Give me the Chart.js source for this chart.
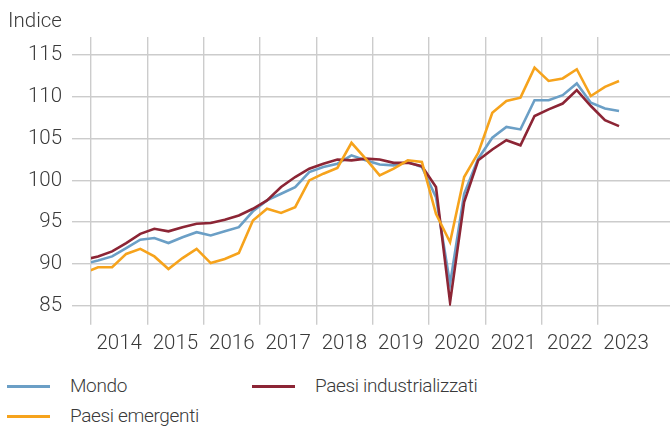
<!DOCTYPE html>
<html>
<head>
<meta charset="utf-8">
<script src="https://cdn.jsdelivr.net/npm/chart.js@4"></script>
<style>
    body { margin: 0; background: #fff; }
    #wrap { position: relative; width: 670px; height: 426px; font-family: Roboto, 'Liberation Sans', sans-serif; font-weight: 300; color: #3a3a3a; }
    #grafico { position: absolute; left: 0; top: 0; }
    .voce { position: absolute; font-size: 19px; line-height: 24px; letter-spacing: -0.35px; white-space: nowrap; }
    .tratto { position: absolute; height: 3px; width: 43px; }
</style>
</head>
<body>
<div id="wrap">
    <canvas id="grafico" width="670" height="360"></canvas>
    <div id="legenda"></div>
</div>
<script>
'use strict';

// trimestri (il primo cade fuori dall'asse e viene tagliato)
const periodi = ['2013T4',
    '2014T1', '2014T2', '2014T3', '2014T4',
    '2015T1', '2015T2', '2015T3', '2015T4',
    '2016T1', '2016T2', '2016T3', '2016T4',
    '2017T1', '2017T2', '2017T3', '2017T4',
    '2018T1', '2018T2', '2018T3', '2018T4',
    '2019T1', '2019T2', '2019T3', '2019T4',
    '2020T1', '2020T2', '2020T3', '2020T4',
    '2021T1', '2021T2', '2021T3', '2021T4',
    '2022T1', '2022T2', '2022T3', '2022T4',
    '2023T1', '2023T2'];

const mondo = [90.0,
    90.4, 90.9, 91.9, 92.9,
    93.1, 92.5, 93.2, 93.8,
    93.4, 93.9, 94.4, 96.3,
    97.6, 98.4, 99.2, 101.0,
    101.6, 102.0, 103.0, 102.4,
    101.9, 101.8, 102.2, 101.6,
    98.0, 87.6, 98.4, 102.6,
    105.1, 106.4, 106.1, 109.6,
    109.6, 110.2, 111.6, 109.3,
    108.6, 108.3];

const industrializzati = [90.5,
    90.9, 91.5, 92.5, 93.6,
    94.2, 93.9, 94.4, 94.8,
    94.9, 95.3, 95.8, 96.6,
    97.6, 99.2, 100.4, 101.4,
    102.0, 102.5, 102.4, 102.6,
    102.5, 102.1, 102.1, 101.7,
    99.2, 85.4, 97.4, 102.4,
    103.7, 104.8, 104.2, 107.7,
    108.5, 109.2, 110.8, 108.9,
    107.2, 106.5];

const emergenti = [88.9,
    89.6, 89.6, 91.2, 91.8,
    90.9, 89.4, 90.7, 91.8,
    90.1, 90.6, 91.3, 95.2,
    96.6, 96.1, 96.8, 100.0,
    100.8, 101.5, 104.5, 102.6,
    100.6, 101.4, 102.4, 102.2,
    96.0, 92.6, 100.4, 103.3,
    108.1, 109.5, 109.9, 113.5,
    111.9, 112.2, 113.3, 110.1,
    111.2, 111.9];

const anni = ['2014', '2015', '2016', '2017', '2018', '2019', '2020', '2021', '2022', '2023'];
const tickY = [85, 90, 95, 100, 105, 110, 115];

const coloreMondo = '#6b9fc6';
const coloreIndustr = '#8c2535';
const coloreEmerg = '#f6a31c';
const grigio = '#cccccc';
const testo = '#3a3a3a';

// posizione del trimestre al centro del periodo
function aData(serie) {
    return serie.map((v, i) => {
        const anno = parseInt(periodi[i].slice(0, 4));
        const t = parseInt(periodi[i].slice(5));
        return { x: anno + (t - 0.5) / 4, y: v };
    });
}

Chart.defaults.font.family = "Roboto, 'Liberation Sans', sans-serif";
Chart.defaults.font.weight = 300;
Chart.defaults.font.size = 20.5;
Chart.defaults.color = testo;

const serie = [
    { label: 'Mondo', data: aData(mondo), borderColor: coloreMondo, order: 3 },
    { label: 'Paesi industrializzati', data: aData(industrializzati), borderColor: coloreIndustr, order: 2 },
    { label: 'Paesi emergenti', data: aData(emergenti), borderColor: coloreEmerg, order: 1 }
];

const ctx = document.querySelector('#grafico');
new Chart(ctx, {
    type: 'line',
    data: {
        datasets: serie.map(s => ({
            label: s.label,
            data: s.data,
            borderColor: s.borderColor,
            backgroundColor: s.borderColor,
            borderWidth: 2.6,
            pointRadius: 0,
            tension: 0,
            order: s.order,
            clip: 0
        }))
    },
    options: {
        responsive: false,
        animation: false,
        layout: { padding: { left: 8, right: 0, top: 0, bottom: 0 } },
        plugins: {
            legend: { display: false },
            tooltip: { enabled: false },
            title: {
                display: true,
                text: 'Indice',
                align: 'start',
                color: testo,
                font: { size: 20.5, weight: 300 },
                padding: { top: 9.5, bottom: 3 }
            }
        },
        scales: {
            x: {
                type: 'linear',
                min: 2014,
                max: 2024.28,
                afterBuildTicks: (axis) => {
                    axis.ticks = axis.ticks.filter(t => Number.isInteger(t.value));
                },
                afterFit: (axis) => { axis.height = 54.3; },
                ticks: {
                    stepSize: 1,
                    autoSkip: false,
                    maxRotation: 0,
                    padding: 6.5,
                    labelOffset: 28.15,
                    callback: (v) => anni[v - 2014] || ''
                },
                grid: { color: grigio, lineWidth: 1.4, tickLength: 19 },
                border: { display: false }
            },
            y: {
                min: 85,
                max: 117.15,
                afterBuildTicks: (axis) => {
                    axis.ticks = tickY.map(v => ({ value: v }));
                },
                afterFit: (axis) => { axis.width = 83; },
                ticks: { padding: 10 },
                grid: { color: grigio, lineWidth: 1.4, tickLength: 19 },
                border: { display: false }
            }
        }
    }
});

// legenda su due colonne
const legenda = document.querySelector('#legenda');
const posizioni = [
    { x: 7, y: 386 },
    { x: 252, y: 386 },
    { x: 7, y: 416 }
];
serie.forEach((s, i) => {
    const p = posizioni[i];
    const tratto = document.createElement('div');
    tratto.className = 'tratto';
    tratto.style.left = p.x + 'px';
    tratto.style.top = (p.y - 1.5) + 'px';
    tratto.style.background = s.borderColor;
    legenda.appendChild(tratto);
    const voce = document.createElement('div');
    voce.className = 'voce';
    voce.style.left = (p.x + 63) + 'px';
    voce.style.top = (p.y - 12) + 'px';
    voce.textContent = s.label;
    legenda.appendChild(voce);
});
</script>
</body>
</html>
